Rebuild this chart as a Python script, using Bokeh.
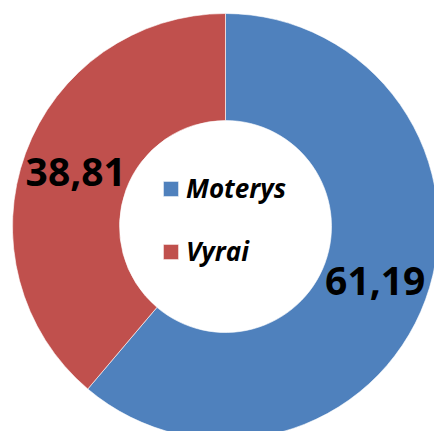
import numpy as np
from bokeh.plotting import figure
from bokeh.models import ColumnDataSource, Range1d
from bokeh.core.properties import value
from bokeh.embed import file_html
from bokeh.resources import INLINE

# ---- data ----
labels = ["Moterys", "Vyrai"]
values = [61.19, 38.81]
colors = ["#4F81BD", "#C0504D"]

# ---- layout ----
W, H = 434, 431
cx, cy = 225, H - 226
r_in, r_out = 106, 213

vals = np.array(values)
frac = vals / vals.sum()
cum = np.concatenate([[0], np.cumsum(frac)])
# clockwise from 12 o'clock
start = np.pi / 2 - cum[1:] * 2 * np.pi
end = np.pi / 2 - cum[:-1] * 2 * np.pi
mid = (start + end) / 2
r_lab = (r_in + r_out) / 2

src = ColumnDataSource(dict(
    label=labels,
    value=values,
    color=colors,
    start=start,
    end=end,
    tx=cx + r_lab * np.cos(mid),
    ty=cy + r_lab * np.sin(mid),
    txt=[f"{v:.2f}".replace(".", ",") for v in values],
))

p = figure(width=W, height=H, x_range=Range1d(0, W), y_range=Range1d(0, H),
           output_backend="svg", toolbar_location=None, min_border=0,
           outline_line_color=None)
p.axis.visible = False
p.grid.visible = False

p.annular_wedge(x=cx, y=cy, inner_radius=r_in, outer_radius=r_out,
                start_angle="start", end_angle="end", fill_color="color",
                line_color="white", line_width=0.6, source=src,
                legend_field="label")

p.text(x="tx", y="ty", text="txt", source=src, text_font=value("Open Sans"),
       text_font_style="bold", text_font_size="39px", text_color="black",
       text_align="center", text_baseline="middle")

lg = p.legend[0]
lg.location = (161, 162)
lg.padding = 0
lg.margin = 0
lg.border_line_alpha = 0
lg.background_fill_alpha = 0
lg.glyph_width = 19
lg.glyph_height = 19
lg.label_standoff = 6
lg.label_height = 36
lg.spacing = 27
lg.label_text_font = "Open Sans"
lg.label_text_font_style = "bold italic"
lg.label_text_font_size = "26px"
lg.label_text_color = "black"

open("out.html", "w").write(file_html(p, INLINE))
